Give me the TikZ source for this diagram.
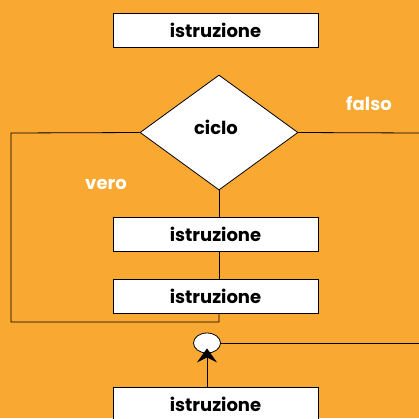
\documentclass[tikz,border=0pt]{standalone}
\usepackage{fontspec}
\setmainfont{Poppins}[BoldFont={* Bold}]
\usetikzlibrary{shapes.geometric,arrows.meta}
\definecolor{bg}{HTML}{F9A832}
\tikzset{
  stmt/.style={draw=black, fill=white, line width=0.8pt, minimum width=205pt, minimum height=34pt, inner sep=0pt, font=\fontsize{18}{20}\selectfont\bfseries},
  cond/.style={draw=black, fill=white, line width=0.8pt, diamond, minimum width=158pt, minimum height=115pt, inner sep=0pt},
  lbl/.style={text=white, font=\fontsize{18}{20}\selectfont\bfseries},
  conn/.style={draw=black, line width=0.8pt},
}
\begin{document}
\begin{tikzpicture}[x=1pt,y=-1pt]
\useasboundingbox (0,0) rectangle (419,418);
\clip (0,0) rectangle (419,418);
\fill[bg] (0,0) rectangle (419,418);
\node[stmt] (s1) at (215.5,30) {istruzione};
\node[cond] (c) at (219,132.5) {};
\node[font=\fontsize{18}{20}\selectfont\bfseries] (ct) at (216,127) {ciclo};
\node[stmt] (s2) at (215.5,234) {istruzione};
\node[stmt] (s3) at (215.5,296) {istruzione};
\node[draw=black, fill=white, line width=0.8pt, ellipse, minimum width=27pt, minimum height=20pt, inner sep=0pt] (j) at (207,343) {};
\node[stmt] (s4) at (215.5,404) {istruzione};
\node[lbl] (f) at (369,104) {falso};
\node[lbl] (v) at (106,184) {vero};
\coordinate (re) at (419,133);
\coordinate (je) at (419,343);
\coordinate (l1) at (11,133);
\coordinate (l2) at (11,322);
\coordinate (l3) at (219,322);
\draw[conn] (c.west) -- (l1) -- (l2) -- (l3) -- (s3.south -| l3);
\draw[conn] (c.east) -- (re);
\draw[conn] (c.south) -- (s2.north -| c.south);
\draw[conn] (s2.south -| c.south) -- (s3.north -| c.south);
\draw[conn] (j.east) -- (je);
\draw[conn, -{Stealth[length=14pt,width=20pt,inset=5pt]}] (s4.north -| j.south) -- ([yshift=5pt]j.south);
\end{tikzpicture}
\end{document}
